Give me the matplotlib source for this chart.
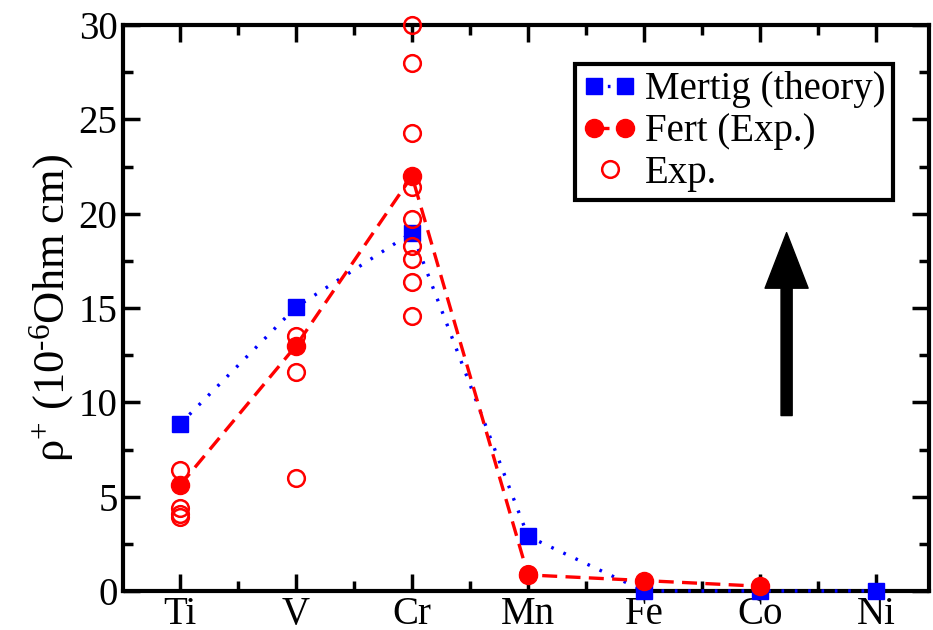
import matplotlib
matplotlib.use("Agg")
import matplotlib.pyplot as plt
from matplotlib.legend_handler import HandlerLine2D

plt.rcParams['font.family'] = ['Liberation Serif', 'DejaVu Serif']
plt.rcParams['mathtext.fontset'] = 'custom'
plt.rcParams['mathtext.rm'] = 'Liberation Serif'
plt.rcParams['mathtext.it'] = 'Liberation Serif:italic'

elements = ['Ti', 'V', 'Cr', 'Mn', 'Fe', 'Co', 'Ni']
mertig = [8.85, 15.05, 19.0, 2.9, 0.0, 0.0, 0.0]
fert = [5.6, 13.0, 22.0, 0.85, 0.55, 0.25]

# individual experimental points: (element index, value)
exp_x = [0, 0, 0, 0,
         1, 1, 1,
         2, 2, 2, 2, 2, 2, 2, 2, 2,
         3]
exp_y = [6.4, 4.4, 4.1, 3.9,
         13.5, 11.6, 6.0,
         30.0, 28.0, 24.3, 21.4, 19.7, 18.3, 17.6, 16.4, 14.6,
         0.9]

fig = plt.figure(figsize=(9.33, 6.3), dpi=100)
ax = fig.add_axes([0.132, 0.062, 0.864, 0.898])

xm = list(range(len(mertig)))
xf = list(range(len(fert)))

l1, = ax.plot(xm, mertig, color='#0000ff', linestyle=(0, (0.8, 3.2)), lw=2.4,
              marker='s', markersize=11.5, label='Mertig (theory)',
              clip_on=False, zorder=3)
l2, = ax.plot(xf, fert, color='#ff0000', linestyle=(0, (4.5, 2.5)), lw=2.4,
              marker='o', markersize=13, label='Fert (Exp.)', clip_on=False,
              zorder=4)
l3, = ax.plot(exp_x, exp_y, linestyle='none', marker='o', markersize=12,
              markerfacecolor='none', markeredgecolor='#ff0000',
              markeredgewidth=1.8, label='Exp.', clip_on=False, zorder=5)

ax.annotate('', xy=(5.23, 19.0), xytext=(5.23, 9.3),
            arrowprops=dict(facecolor='black', edgecolor='black', width=8,
                            headwidth=31, headlength=40, shrink=0))

ax.set_xlim(-0.49, 6.46)
ax.set_ylim(0, 30)
ax.set_xticks(range(len(elements)))
ax.set_xticklabels(elements)
ax.set_xticks([i + 0.5 for i in range(6)], minor=True)
ax.set_yticks(range(0, 31, 5))
ax.set_yticks([2.5 + 5 * i for i in range(6)], minor=True)

ax.tick_params(which='both', direction='in', top=True, right=True,
               width=2.5, labelsize=28)
ax.tick_params(which='major', length=12, pad=4)
ax.tick_params(which='minor', length=7)
for s in ax.spines.values():
    s.set_linewidth(3)

ax.set_ylabel(r'ρ$^{+}$ (10$^{\text{-6}}$Ohm cm)', fontsize=32, labelpad=2)

leg = ax.legend(handles=[l1, l2, l3], loc='upper right',
                bbox_to_anchor=(0.955, 0.932), fontsize=28,
                handler_map={l3: HandlerLine2D(numpoints=1)},
                numpoints=2, handlelength=1.4, handletextpad=0.2,
                borderpad=0.2, labelspacing=0.12, fancybox=False,
                edgecolor='black', framealpha=1, borderaxespad=0)
leg.get_frame().set_linewidth(3)

fig.savefig('out.png', dpi=100)
